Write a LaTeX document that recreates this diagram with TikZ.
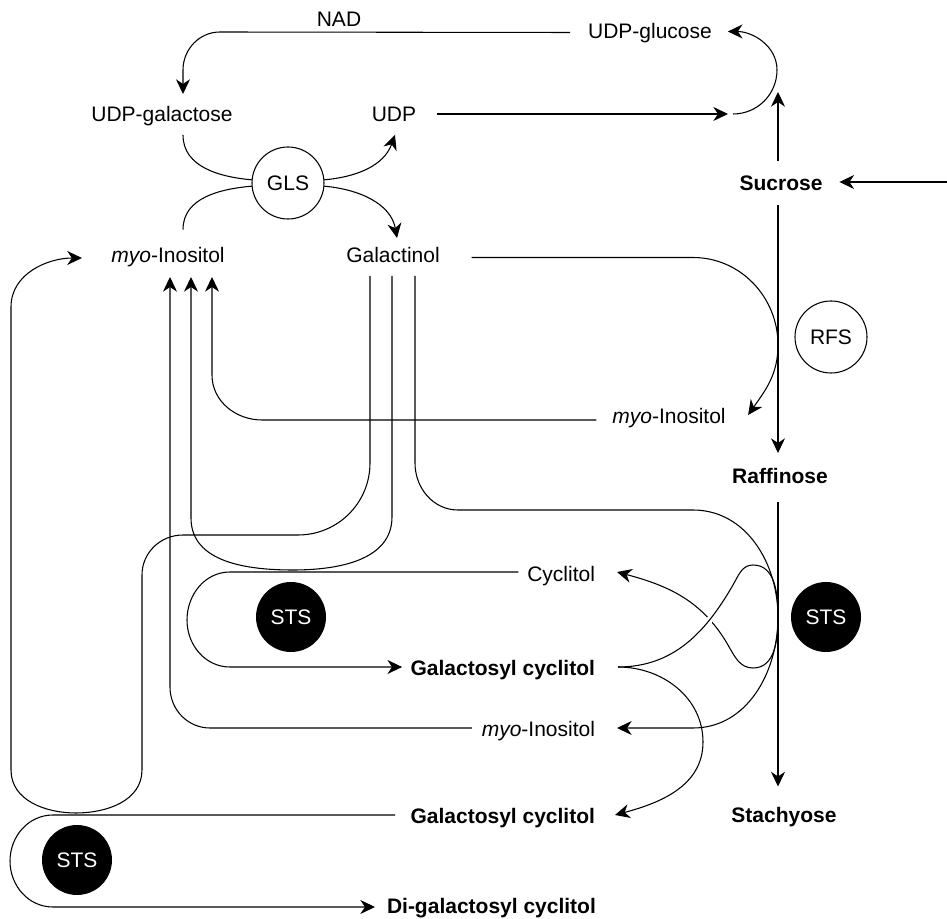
\documentclass[tikz,border=0pt]{standalone}
\usepackage{fontspec}
\setmainfont{Liberation Sans}
\usetikzlibrary{arrows.meta,calc}
\newcommand{\diagfont}{\fontsize{15.75pt}{19pt}\selectfont}
\begin{document}
\begin{tikzpicture}[x=0.75pt,y=0.75pt,
  lbl/.style={inner sep=0pt, outer sep=0pt, text height=12.75pt, text depth=0pt, font=\diagfont},
  bl/.style={lbl, font=\diagfont\bfseries},
  enz/.style={circle, draw, fill=white, line width=0.8pt, minimum size=54pt, inner sep=0pt, outer sep=0pt, font=\diagfont},
  sts/.style={circle, fill=black, text=white, minimum size=52.5pt, inner sep=0pt, outer sep=0pt, font=\diagfont},
  conn/.style={line width=0.8pt},
  arr/.style={conn, -{Stealth[length=11pt,width=10.5pt,inset=3.5pt]}}]
\path[use as bounding box] (0,0) rectangle (947,-919);

% metabolites
\node[lbl] (nad) at (339,-18) {NAD};
\node[lbl] (uglc) at (650,-30.5) {UDP-glucose};
\node[lbl] (ugal) at (162,-113) {UDP-galactose};
\node[lbl] (udp) at (394,-113) {UDP};
\node[bl] (suc) at (781,-182) {Sucrose};
\node[lbl] (myoA) at (168,-254.5) {\textit{myo}-Inositol};
\node[lbl] (galn) at (393,-254.5) {Galactinol};
\node[lbl] (myoB) at (669,-415.5) {\textit{myo}-Inositol};
\node[bl] (raf) at (780,-475.5) {Raffinose};
\node[lbl, anchor=east] (cyc) at (595,-573.5) {Cyclitol};
\node[bl, anchor=east] (gcA) at (595,-667.5) {Galactosyl cyclitol};
\node[lbl, anchor=east] (myoC) at (595,-728.5) {\textit{myo}-Inositol};
\node[bl, anchor=east] (gcB) at (595,-815.5) {Galactosyl cyclitol};
\node[bl] (sta) at (784,-813.5) {Stachyose};
\node[bl, anchor=west] (dgc) at (387,-904.5) {Di-galactosyl cyclitol};

% enzymes
\node[enz] (gls) at (288,-183) {GLS};
\node[enz] (rfs) at (831,-337) {RFS};
\node[sts] (stsA) at (291,-617) {STS};
\node[sts] (stsB) at (826,-617) {STS};
\node[sts] (stsC) at (77,-860) {STS};

% junctions and free ends
\coordinate (jA) at (728,-114);
\coordinate (jB) at (778,-92);
\coordinate (src) at (947,-182);
\coordinate (kB) at (778,-617);

% stachyose synthase on galactosyl cyclitol (line jump at the crossing)
\draw[arr] (kB) to[out=-90,in=0] (753,-668) to[out=180,in=-60] (728,-645)
  to[out=120,in=-15] ($(cyc.east)+(22,1.5)$);
\draw[conn, preaction={draw=white,line width=5pt}] ($(gcA.east)+(23,0.5)$)
  to[out=0,in=-120] (733,-585) to[out=60,in=180] (753,-565) to[out=0,in=90] (kB);
\draw[arr] ($(gcA.east)+(23,0.5)$) to[out=0,in=90] (703,-742)
  to[out=-90,in=15] ($(gcB.east)+(20,0.5)$);

% UDP-glucose / UDP-galactose cycle
\draw[arr] ($(uglc.west)+(-18,-2)$) -- (220,-32) to[out=180,in=90] (183,-70)
  -- ($(ugal.north)+(21,10.5)$);
\draw[arr] ($(udp.east)+(21,-1)$) -- (jA);
\draw[arr] ($(jA)+(5,0)$) to[out=0,in=-90] (777,-70) to[out=90,in=0] ($(uglc.east)+(16,-1)$);
\draw[arr] ($(suc.north)+(-3,12)$) -- (jB);
\draw[arr] (src) -- ($(suc.east)+(17,0)$);

% sucrose -> raffinose -> stachyose
\draw[arr] ($(suc.south)+(-3,-14.5)$) -- ($(raf.north)+(-2,14)$);
\draw[arr] ($(raf.south)+(-2,-18)$) -- ($(sta.north)+(-6,18.5)$);

% galactinol synthase
\draw[conn] ($(ugal.south)+(21,-13.5)$) to[out=-90,in=175] (gls.175);
\draw[conn] ($(myoA.north)+(15,16.5)$) to[out=90,in=185] (gls.185);
\draw[arr] (gls.5) to[out=5,in=-110] ($(udp.south)+(1,-13.5)$);
\draw[arr] (gls.-5) to[out=-5,in=100] ($(galn.north)+(4,8)$);

% raffinose synthase
\draw[arr] ($(galn.east)+(32,-3)$) -- (693,-257.5) to[out=0,in=90] (778,-345)
  to[out=-90,in=55] ($(myoB.east)+(22.5,0.5)$);

% galactinol routes
\draw[arr] ($(galn.south)+(-23,-13)$) -- (370,-463) to[out=-90,in=0] (298,-535)
  -- (183,-535) to[out=180,in=90] (142,-575) -- (142,-770)
  to[out=-90,in=0] (76,-813) to[out=180,in=-90] (11,-770) -- (11,-307)
  to[out=90,in=180] ($(myoA.west)+(-29.5,-3.5)$);
\draw[arr] ($(galn.south)+(-1,-13)$) -- (392,-517) to[out=-90,in=0] (293,-570)
  to[out=180,in=-90] (191,-518) -- ($(myoA.south)+(23,-14)$);
\draw[arr] ($(galn.south)+(22,-13)$) -- (415,-463) to[out=-90,in=180] (458,-510)
  -- (693,-510) to[out=0,in=90] (778,-617) to[out=-90,in=0] (693,-728)
  -- ($(myoC.east)+(22,0.5)$);

% myo-inositol returns
\draw[arr] ($(myoB.west)+(-16,-4.5)$) -- (262,-420) to[out=180,in=-90] (212,-375)
  -- ($(myoA.south)+(44,-14)$);
\draw[arr] ($(myoC.west)+(-10,0.5)$) -- (210,-728) to[out=180,in=-90] (170,-687)
  -- ($(myoA.south)+(2,-14)$);

% cyclitol loops
\draw[arr] ($(cyc.west)+(-9,1.5)$) -- (230,-572) to[out=180,in=90] (187,-620)
  to[out=-90,in=180] (230,-667) -- ($(gcA.west)+(-8.5,0.5)$);
\draw[arr] ($(gcB.west)+(-15.5,0.5)$) -- (53,-815) to[out=180,in=90] (10,-861)
  to[out=-90,in=180] (53,-907) -- ($(dgc.west)+(-12,-2.5)$);
\end{tikzpicture}
\end{document}
